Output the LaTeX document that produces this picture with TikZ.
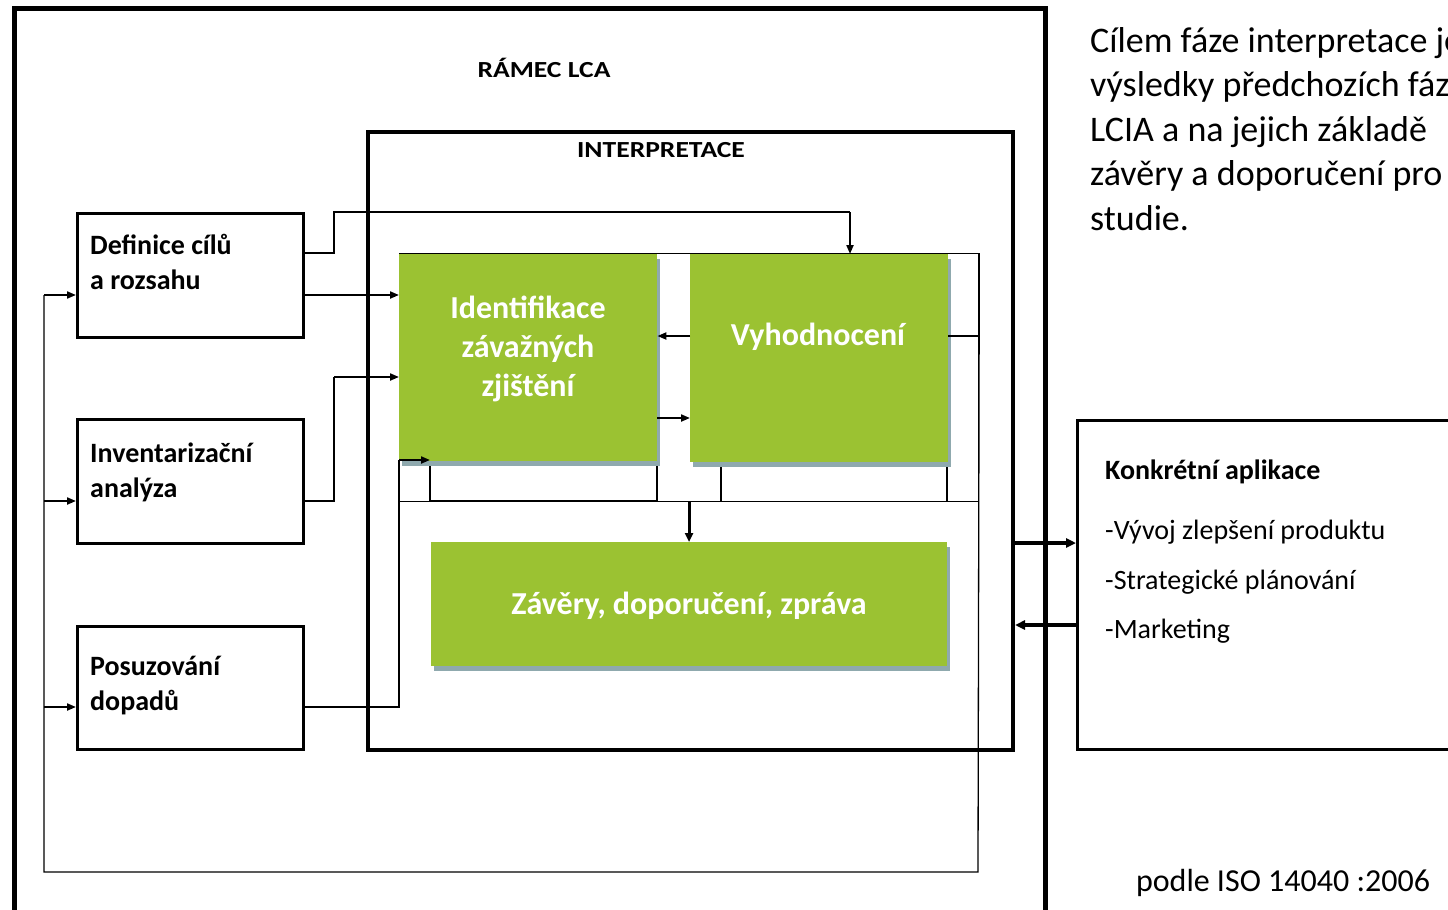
\documentclass[tikz,border=0pt]{standalone}
\usepackage{fontspec}
\setmainfont{Carlito}
\newfontfamily\ttlfont[FakeStretch=1.2]{Carlito}
\usetikzlibrary{arrows.meta,shadows}
\definecolor{grn}{HTML}{9BC232}
\definecolor{shd}{HTML}{8FA9AE}
\begin{document}
\begin{tikzpicture}[x=1pt,y=-1pt,
  box/.style={draw, line width=2.5pt, anchor=north west, inner sep=0pt},
  gbox/.style={fill=grn, anchor=north west, inner sep=0pt,
     general shadow={fill=shd, shadow xshift=3pt, shadow yshift=-5pt}},
  thin/.style={line width=1.3pt},
  conn/.style={line width=2pt},
  tip/.style={-{Triangle[length=9pt,width=7pt]}},
  bigtip/.style={line width=4pt,-{Triangle[length=10pt,width=9pt]}},
  ltext/.style={anchor=west, align=left, font=\bfseries\fontsize{28}{35}\selectfont, inner sep=0pt},
  gtext/.style={align=center, text=white, font=\bfseries\fontsize{32}{39}\selectfont, inner sep=0pt},
  ttl/.style={font=\ttlfont\bfseries\fontsize{23}{26}\selectfont, inner sep=0pt},
  rtext/.style={anchor=west, font=\fontsize{28}{32}\selectfont, inner sep=0pt}
]
\useasboundingbox (0,0) rectangle (1448,910);
\clip (0,0) rectangle (1448,910);

% frames
\node[draw, line width=5pt, anchor=north west, minimum width=1031pt, minimum height=940pt] (lca) at (12,6) {};
\node[draw, line width=4pt, anchor=north west, minimum width=645pt, minimum height=618pt] (interp) at (366,130) {};
\node[draw, thin, anchor=north west, minimum width=579pt, minimum height=248pt] (inner) at (399,253) {};

\node[ttl] (tlca) at (544,68) {RÁMEC LCA};
\node[ttl] (tint) at (661,150) {INTERPRETACE};

% left boxes
\node[box, minimum width=226pt, minimum height=124pt] (def) at (76,212) {};
\node[box, minimum width=226pt, minimum height=124pt] (inv) at (76,418) {};
\node[box, minimum width=226pt, minimum height=123pt] (pos) at (76,625) {};
\node[ltext] (tdef) at (90,262) {Definice cílů\\a rozsahu};
\node[ltext] (tinv) at (90,472) {Inventarizační\\analýza};
\node[ltext] (tpos) at (90,686) {Posuzování\\dopadů};

% application box
\node[box, minimum width=420pt, minimum height=329pt] (app) at (1076,419) {};
\node[rtext, font=\bfseries\fontsize{28}{32}\selectfont] (tapp) at (1105,472) {Konkrétní aplikace};
\node[rtext] (a1) at (1105,532) {-Vývoj zlepšení produktu};
\node[rtext] (a2) at (1105,582) {-Strategické plánování};
\node[rtext] (a3) at (1105,631) {-Marketing};

% thin structure lines under green boxes
\draw[thin] (430,460) -- (430,501);
\draw[thin] (657,461) -- (657,501);
\draw[thin] (721,462) -- (721,501);
\draw[thin] (947,462) -- (947,501);
\draw[line width=2.5pt] (430,501) -- (657,501);

% green boxes
\node[gbox, minimum width=258pt, minimum height=207pt] (ident) at (399,254) {};
\node[gbox, minimum width=258pt, minimum height=208pt] (vyh) at (690,254) {};
\node[gbox, minimum width=516pt, minimum height=124pt] (zav) at (431,542) {};
\node[gtext] (tident) at (528,349) {Identifikace\\závažných\\zjištění};
\node[gtext] (tvyh) at (818,337) {Vyhodnocení};
\node[gtext] (tzav) at (689,606) {Závěry, doporučení, zpráva};

% coordinates
\coordinate (d1) at (302,253);
\coordinate (d1b) at (334,212);
\coordinate (d1c) at (850,212);
\coordinate (d2) at (302,295);
\coordinate (i1) at (302,501);
\coordinate (i2) at (334,377);
\coordinate (p1) at (302,707);
\coordinate (p2) at (399,460);
\coordinate (p3) at (430,460);
\coordinate (v1) at (690,336);
\coordinate (v2) at (657,418);
\coordinate (v3) at (948,336);
\coordinate (f1) at (978,872);
\coordinate (f2) at (44,872);
\coordinate (f3) at (44,295);
\coordinate (f4) at (44,501);
\coordinate (f5) at (44,707);
\coordinate (z1) at (689,501);
\coordinate (r1) at (1012,543);
\coordinate (r2) at (1076,625);

% connectors
\draw[conn] (d1) -- (334,253) -- (d1b) -- (d1c);
\draw[conn,tip] (d1c) -- (d1c |- vyh.north);
\draw[conn,tip] (d2) -- (d2 -| ident.west);
\draw[conn] (i1) -| (i2);
\draw[conn,tip] (i2) -- (i2 -| ident.west);
\draw[conn] (p1) -| (p2);
\draw[conn,tip] (p2) -- (p3);
\draw[conn,tip] (v1) -- (v1 -| ident.east);
\draw[conn,tip] (v2) -- (v2 -| vyh.west);
\draw[conn] (v3) -- (v3 -| inner.east);
\draw[thin] (inner.north east) -- (f1) -- (f2) -- (f3);
\draw[conn,tip] (f3) -- (f3 -| def.west);
\draw[conn,tip] (f4) -- (f4 -| inv.west);
\draw[conn,tip] (f5) -- (f5 -| pos.west);
\draw[line width=3pt,-{Triangle[length=9pt,width=8pt]}] (z1) -- (z1 |- zav.north);
\draw[bigtip] (r1) -- (r1 -| app.west);
\draw[bigtip] (r2) -- (r2 -| interp.east);

% text on the right
\node[anchor=west, align=left, font=\fontsize{36}{44.5}\selectfont, inner sep=0pt] (desc) at (1090,129)
  {Cílem fáze interpretace je\\výsledky předchozích fází\\LCIA a na jejich základě\\závěry a doporučení pro\\studie.};
\node[font=\fontsize{32}{36}\selectfont, inner sep=0pt] (iso) at (1283,883) {podle ISO 14040 :2006};
\end{tikzpicture}
\end{document}
